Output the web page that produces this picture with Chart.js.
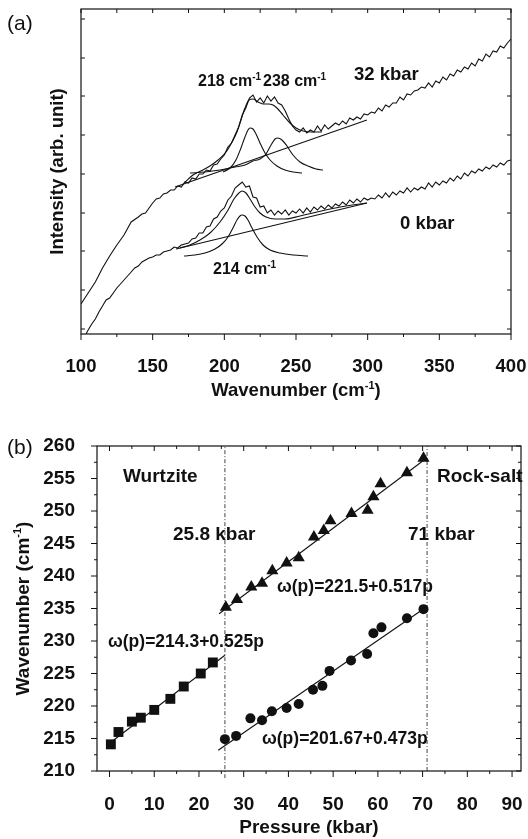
<!DOCTYPE html>
<html><head><meta charset="utf-8">
<script src="https://cdn.jsdelivr.net/npm/chart.js"></script>
<style>
html,body{margin:0;padding:0;background:#fff;}
#wrap{position:relative;width:528px;height:839px;overflow:hidden;}
#c1{position:absolute;left:0;top:0;}
#c2{position:absolute;left:0;top:420px;}
</style></head><body>
<div id="wrap">
<canvas id="c1" width="528" height="420"></canvas>
<canvas id="c2" width="528" height="419"></canvas>
</div>
<script>
const FONT = "'Liberation Sans', Arial, Helvetica, sans-serif";
const INK = '#111';

/* ---------------- Panel (a): Raman spectra ---------------- */
const wave32 = [100,105,110,115,120,125,130,135,140,142.5,145,147.5,
150,152.5,155,157.5,160,162.5,165,167.5,170,172.5,175,177.5,180,182.5,185,187.5,190,192.5,195,197.5,
200,202.5,205,207.5,210,212.5,215,217.5,220,222.5,225,227.5,230,232.5,235,237.5,240,242.5,245,247.5,
250,252.5,255,257.5,260,262.5,265,267.5,270,272.5,275,277.5,280,282.5,285,287.5,290,292.5,295,297.5,
300,302.5,305,307.5,310,312.5,315,317.5,320,322.5,325,327.5,330,332.5,335,337.5,340,342.5,345,347.5,
350,352.5,355,357.5,360,362.5,365,367.5,370,372.5,375,377.5,380,382.5,385,387.5,390,392.5,395,397.5,400];
const int32 = [25,36,47,61,73,84,94,107,112,115,116,121,
126,130,131,135,136,139,139,143,142,147,146,151,150,155,155,159,158,164,165,170,
174,182,186,194,202,214,221,231,234,227,231,226,233,228,232,226,224,218,210,203,
199,197,201,196,199,197,203,198,204,200,203,206,204,208,205,211,209,212,210,215,
214,217,216,221,218,224,222,226,226,232,229,235,234,238,239,242,241,246,242,248,
246,252,249,255,253,259,257,262,260,266,263,270,268,275,272,278,277,283,281,286,290];

const wave0 = [103.5,105,107.5,110,112.5,115,117.5,120,122.5,125,127.5,130,132.5,135,137.5,140,142.5,145,147.5,
150,152.5,155,157.5,160,162.5,165,167.5,170,172.5,175,177.5,180,182.5,185,187.5,190,192.5,195,197.5,
200,202.5,205,207.5,210,212.5,215,217.5,220,222.5,225,227.5,230,232.5,235,237.5,240,242.5,245,247.5,
250,252.5,255,257.5,260,262.5,265,267.5,270,272.5,275,277.5,280,282.5,285,287.5,290,292.5,295,297.5,
300,302.5,305,307.5,310,312.5,315,317.5,320,322.5,325,327.5,330,332.5,335,337.5,340,342.5,345,347.5,
350,352.5,355,357.5,360,362.5,365,367.5,370,372.5,375,377.5,380,382.5,385,387.5,390,392.5,395,397.5,400];
const int0 = [-5,-1,5,10,17,23,29,31,36,41,45,49,53,57,61,63,67,69,71,
72,74,74,77,78,79,82,81,84,85,86,90,91,96,96,102,103,110,112,118,
121,129,133,141,144,147,142,143,132,131,122,123,116,119,114,118,115,119,114,118,
116,120,116,121,117,122,119,123,120,124,121,125,123,127,124,129,126,130,127,131,
129,131,130,134,131,136,132,137,134,138,136,141,137,141,139,142,140,146,142,147,
144,148,146,151,148,153,150,156,153,158,156,160,158,162,160,164,162,166,164,168,169];

const fitWave32 = [172.6,178.1,185.1,190.0,195.6,201.2,205.4,208.8,211.6,214.4,217.2,220.0,223.5,227.0,230.5,234.0,237.4,240.9,245.8,250.0,254.9,261.2,268.1];
const fitInt32  = [147,154,159,163,169,177,187,197,209,221,229,230,227,225,225,224,220,214,206,201,198,197,197];
const peak218Wave = [199.1,204.0,208.1,211.6,214.4,216.5,217.9,220.0,222.1,224.9,228.4,231.9,236.7,242.3,247.9,254.2];
const peak218Int  = [157,161,169,181,192,199,201,200,195,186,176,169,163,159,157,156];
const peak238Wave = [176.0,186.5,197.0,207.4,214.4,220.0,224.9,229.1,232.6,235.4,237.4,240.2,243.7,247.9,252.8,258.4,264.0,268.8];
const peak238Int  = [156,157,159,162,164,168,170,175,184,190,191,189,183,174,167,163,160,159];
const base32Wave = [165.6,299.5];
const base32Int  = [142,209];

const fitWave0 = [169.1,176.0,183.0,190.0,197.0,202.6,206.7,210.2,212.3,215.1,217.9,221.4,224.9,229.1,235.4,242.3,252.8,264.7,280.7,299.5];
const fitInt0  = [81,84,89,96,107,119,130,136,138,136,130,122,116,112,110,110,113,117,122,126];
const peak214Wave = [171.9,179.5,186.5,193.5,198.4,202.6,206.0,208.8,210.9,212.3,214.4,216.5,219.3,222.8,227.0,231.9,238.8,247.9,258.4];
const peak214Int  = [73,74,76,80,85,92,101,109,113,114,113,109,101,92,84,79,76,74,73];
const base0Wave = [166.3,299.5];
const base0Int  = [80,126];

const xMajorA = [100,150,200,250,300,350,400];
const xMinorA = [125,175,225,275,325,375];
const yTicksA = [0,39,78,116,155,194,233,271,310];

/* ---------------- Panel (b): pressure dependence ---------------- */
const pSquare = [0.3,2.0,5.0,7.0,10.0,13.6,16.6,20.4,23.1];
const wSquare = [214.1,216.0,217.6,218.2,219.4,221.1,223.0,225.0,226.7];
const pTriangle = [26.0,28.5,31.7,34.1,36.4,39.6,42.3,45.7,47.9,49.4,54.1,57.7,59.0,60.6,66.5,70.2];
const wTriangle = [235.2,236.4,238.3,238.9,240.8,242.0,242.8,246.0,247.0,248.5,249.6,250.1,252.2,254.2,255.9,258.1];
const pCircle = [25.8,28.3,31.5,34.1,36.3,39.6,42.3,45.5,47.6,49.2,54.0,57.6,59.0,60.8,66.5,70.2];
const wCircle = [214.9,215.4,218.1,217.8,219.2,219.7,220.3,222.5,223.1,225.4,227.0,228.0,231.2,232.1,233.5,234.9];
const fitSquareP = [-0.5,25.8],  fitSquareW = [214.0,227.8];
const fitTriP = [24.5,71.0],     fitTriW = [234.2,258.2];
const fitCircP = [24.3,71.0],    fitCircW = [213.2,235.3];
const transitions = [25.8,71.0];
const transitionSpan = [[208.9,260],[210,260]];
const xMajorB = [0,10,20,30,40,50,60,70,80,90];
const xMinorB = [5,15,25,35,45,55,65,75,85];
const yMajorB = [210,215,220,225,230,235,240,245,250,255,260];
const yMinorB = [212.5,217.5,222.5,227.5,232.5,237.5,242.5,247.5,252.5,257.5];

/* ---------------- helpers ---------------- */
const zip = (xs, ys) => xs.map((x, i) => ({x, y: ys[i]}));

function drawRich(ctx, x, y, parts, size, weight, align) {
  const sup = Math.round(size * 0.6);
  const widths = parts.map(([t, s]) => { ctx.font = `${weight} ${s ? sup : size}px ${FONT}`; return ctx.measureText(t).width; });
  const total = widths.reduce((a, b) => a + b, 0);
  let cx = align === 'center' ? x - total / 2 : (align === 'right' ? x - total : x);
  ctx.textAlign = 'left';
  ctx.textBaseline = 'alphabetic';
  parts.forEach(([t, s], i) => {
    ctx.font = `${weight} ${s ? sup : size}px ${FONT}`;
    ctx.fillText(t, cx, s ? y - size * 0.40 : y);
    cx += widths[i];
  });
}

function framePlugin(spec) {
  return {
    id: 'frameTicks',
    afterDraw(chart) {
      const {ctx, chartArea: a, scales} = chart;
      ctx.save();
      ctx.strokeStyle = INK;
      ctx.lineWidth = 1.2;
      ctx.strokeRect(a.left, a.top, a.right - a.left, a.bottom - a.top);
      ctx.lineWidth = 1;
      ctx.beginPath();
      const sx = scales.x, sy = scales.y;
      const doX = (vals, lb, lt) => vals.forEach(v => {
        const px = sx.getPixelForValue(v);
        if (lb) { ctx.moveTo(px, a.bottom); ctx.lineTo(px, a.bottom + lb); }
        if (lt) { ctx.moveTo(px, a.top); ctx.lineTo(px, a.top - lt); }
      });
      const doY = (vals, ll, lr) => vals.forEach(v => {
        const py = sy.getPixelForValue(v);
        if (ll) { ctx.moveTo(a.left, py); ctx.lineTo(a.left - ll, py); }
        if (lr) { ctx.moveTo(a.right, py); ctx.lineTo(a.right + lr, py); }
      });
      doX(spec.xMajor, spec.bottom[0], spec.top[0]);
      doX(spec.xMinor, spec.bottom[1], spec.top[1]);
      doY(spec.yMajor, spec.left[0], spec.right[0]);
      doY(spec.yMinor, spec.left[1], spec.right[1]);
      ctx.stroke();
      ctx.fillStyle = INK;
      spec.texts(ctx, a);
      ctx.restore();
    }
  };
}

const lineDS = (data, extra) => Object.assign({
  data, showLine: true, pointRadius: 0, borderColor: INK, borderWidth: 1.1, fill: false, tension: 0
}, extra || {});

/* ---------------- Chart (a) ---------------- */
new Chart(document.getElementById('c1'), {
  type: 'scatter',
  data: {
    datasets: [
      lineDS(zip(wave32, int32)),
      lineDS(zip(wave0, int0)),
      lineDS(zip(fitWave32, fitInt32), {cubicInterpolationMode: 'monotone'}),
      lineDS(zip(peak218Wave, peak218Int), {cubicInterpolationMode: 'monotone'}),
      lineDS(zip(peak238Wave, peak238Int), {cubicInterpolationMode: 'monotone'}),
      lineDS(zip(base32Wave, base32Int)),
      lineDS(zip(fitWave0, fitInt0), {cubicInterpolationMode: 'monotone'}),
      lineDS(zip(peak214Wave, peak214Int), {cubicInterpolationMode: 'monotone'}),
      lineDS(zip(base0Wave, base0Int))
    ]
  },
  options: {
    responsive: false, animation: false,
    layout: {padding: {left: 0, right: 17, top: 9, bottom: 0}},
    plugins: {legend: {display: false}, tooltip: {enabled: false}},
    scales: {
      x: {
        type: 'linear', position: 'bottom', min: 100, max: 400,
        grid: {display: false}, border: {display: false},
        ticks: {stepSize: 50, padding: 14, maxRotation: 0, autoSkip: false, color: INK,
                font: {family: FONT, size: 18.5, weight: 'bold'}},
        afterFit(s) { s.height = 86; s.paddingLeft = 0; s.paddingRight = 0; }
      },
      y: {
        type: 'linear', min: -5, max: 320,
        grid: {display: false}, border: {display: false},
        ticks: {display: false},
        afterFit(s) { s.width = 81; s.paddingTop = 0; s.paddingBottom = 0; }
      }
    }
  },
  plugins: [framePlugin({
    xMajor: xMajorA, xMinor: xMinorA, yMajor: yTicksA, yMinor: [],
    bottom: [6, 3], top: [-4, -4], left: [-4, 0], right: [-4, 0],
    texts(ctx, a) {
      drawRich(ctx, 198, 86, [['218 cm'], ['-1', true]], 16, 'bold', 'left');
      drawRich(ctx, 263, 86, [['238 cm'], ['-1', true]], 16, 'bold', 'left');
      drawRich(ctx, 354, 79.5, [['32 kbar']], 18.5, 'bold', 'left');
      drawRich(ctx, 400, 228.5, [['0 kbar']], 18.5, 'bold', 'left');
      drawRich(ctx, 213, 274, [['214 cm'], ['-1', true]], 16, 'bold', 'left');
      drawRich(ctx, 7, 30, [['(a)']], 21, 'normal', 'left');
      drawRich(ctx, (a.left + a.right) / 2, 396, [['Wavenumber (cm'], ['-1', true], [')']], 18.5, 'bold', 'center');
      ctx.save();
      ctx.translate(56, (a.top + a.bottom) / 2);
      ctx.rotate(-Math.PI / 2);
      drawRich(ctx, 0, 6.5, [['Intensity (arb. unit)']], 18.5, 'bold', 'center');
      ctx.restore();
    }
  })]
});

/* ---------------- Chart (b) ---------------- */
const dashDot = [4, 2, 1, 2];
new Chart(document.getElementById('c2'), {
  type: 'scatter',
  data: {
    datasets: [
      {data: zip(pSquare, wSquare), pointStyle: 'rect', pointRadius: 7, backgroundColor: INK, borderColor: INK, borderWidth: 0},
      {data: zip(pTriangle, wTriangle), pointStyle: 'triangle', pointRadius: 7, backgroundColor: INK, borderColor: INK, borderWidth: 0},
      {data: zip(pCircle, wCircle), pointStyle: 'circle', pointRadius: 5, backgroundColor: INK, borderColor: INK, borderWidth: 0},
      lineDS(zip(fitSquareP, fitSquareW)),
      lineDS(zip(fitTriP, fitTriW)),
      lineDS(zip(fitCircP, fitCircW)),
      lineDS(transitionSpan[0].map(y => ({x: transitions[0], y})), {borderDash: dashDot, borderColor: '#444', borderWidth: 1, clip: false}),
      lineDS(transitionSpan[1].map(y => ({x: transitions[1], y})), {borderDash: dashDot, borderColor: '#444', borderWidth: 1})
    ]
  },
  options: {
    responsive: false, animation: false,
    layout: {padding: {left: 0, right: 3, top: 26, bottom: 0}},
    plugins: {legend: {display: false}, tooltip: {enabled: false}},
    scales: {
      x: {
        type: 'linear', position: 'bottom', min: -2.8, max: 92,
        grid: {display: false}, border: {display: false},
        ticks: {stepSize: 10, includeBounds: false, padding: 14, maxRotation: 0, autoSkip: false, color: INK,
                font: {family: FONT, size: 19, weight: 'bold'}},
        afterFit(s) { s.height = 68; s.paddingLeft = 0; s.paddingRight = 0; }
      },
      y: {
        type: 'linear', min: 210, max: 260,
        grid: {display: false}, border: {display: false},
        ticks: {stepSize: 5, padding: 14, color: INK, font: {family: FONT, size: 19, weight: 'bold'}},
        afterFit(s) { s.width = 97; s.paddingTop = 0; s.paddingBottom = 0; }
      }
    }
  },
  plugins: [framePlugin({
    xMajor: xMajorB, xMinor: xMinorB, yMajor: yMajorB, yMinor: yMinorB,
    bottom: [6, 3], top: [-5, -3], left: [6, 3], right: [-5, -3],
    texts(ctx, a) {
      drawRich(ctx, 7, 34, [['(b)']], 21, 'normal', 'left');
      drawRich(ctx, 123, 61.5, [['Wurtzite']], 19, 'bold', 'left');
      drawRich(ctx, 437, 61.5, [['Rock-salt']], 19, 'bold', 'left');
      drawRich(ctx, 173, 119.5, [['25.8 kbar']], 19, 'bold', 'left');
      drawRich(ctx, 408, 119.5, [['71 kbar']], 19, 'bold', 'left');
      drawRich(ctx, 108, 226.5, [['\u03c9(p)=214.3+0.525p']], 17.5, 'bold', 'left');
      drawRich(ctx, 277, 171.5, [['\u03c9(p)=221.5+0.517p']], 17.5, 'bold', 'left');
      drawRich(ctx, 262, 323.5, [['\u03c9(p)=201.67+0.473p']], 17.5, 'bold', 'left');
      drawRich(ctx, (a.left + a.right) / 2, 413, [['Pressure (kbar)']], 19, 'bold', 'center');
      ctx.save();
      ctx.translate(22, (a.top + a.bottom) / 2);
      ctx.rotate(-Math.PI / 2);
      drawRich(ctx, 0, 6.5, [['Wavenumber (cm'], ['-1', true], [')']], 19, 'bold', 'center');
      ctx.restore();
    }
  })]
});
</script>
</body></html>
